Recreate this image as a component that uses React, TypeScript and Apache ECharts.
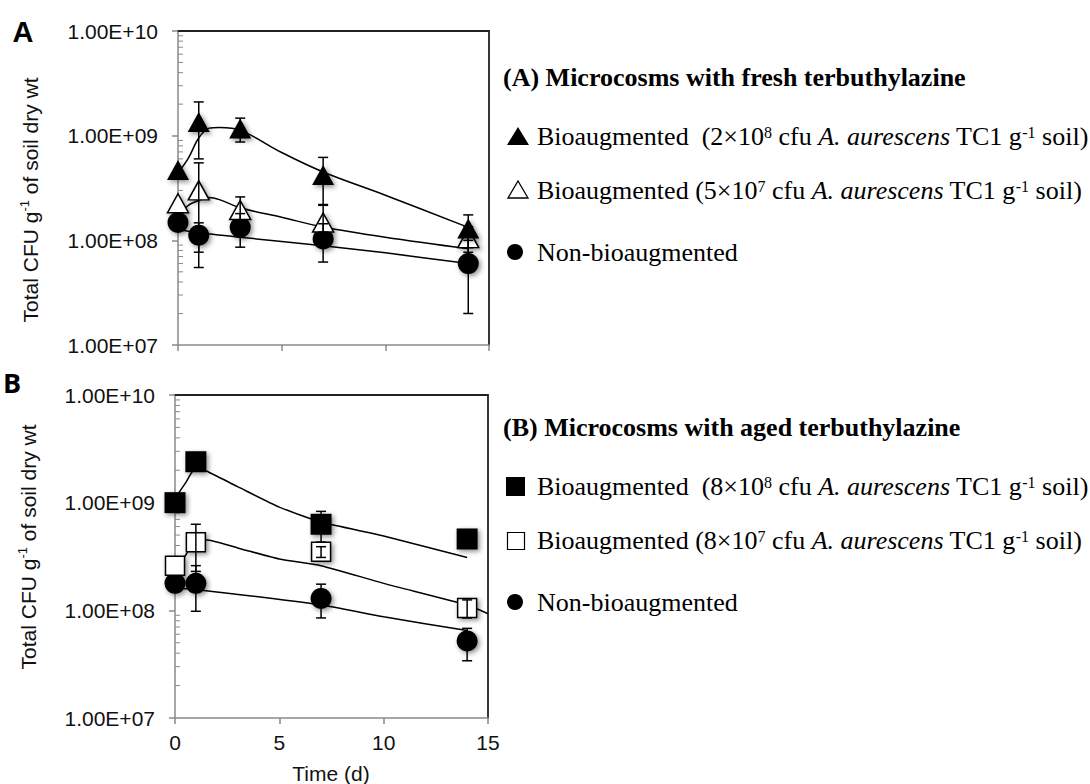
import React, { useEffect, useRef } from "react";
import * as echarts from "echarts";

// ---------- Panel A: fresh terbuthylazine ----------
// null = error bar hidden behind the marker
const A_DAYS = [0, 1, 3, 7, 14];
const A_BIO_HIGH = [4.7e8, 1.35e9, 1.17e9, 4.2e8, 1.3e8];
const A_BIO_HIGH_LO = [null, 6.0e8, 8.7e8, 2.2e8, 8.5e7];
const A_BIO_HIGH_HI = [null, 2.1e9, 1.47e9, 6.2e8, 1.75e8];
const A_BIO_LOW = [2.26e8, 3.0e8, 1.95e8, 1.48e8, 1.05e8];
const A_BIO_LOW_LO = [null, 5.5e7, 1.5e8, 1.2e8, 7.7e7];
const A_BIO_LOW_HI = [null, 5.5e8, 2.6e8, 2.16e8, 1.35e8];
const A_NON = [1.48e8, 1.12e8, 1.33e8, 1.03e8, 6.0e7];
const A_NON_LO = [null, 7.7e7, 8.6e7, 6.2e7, 2.0e7];
const A_NON_HI = [null, 1.47e8, 1.8e8, 1.44e8, 1.0e8];

// fitted curves, panel A
const A_FIT_DAYS = [0, 0.5, 1, 1.5, 2, 3, 5, 7, 10, 14];
const A_FIT_BIO_HIGH = [4.4e8, 6.1e8, 9.5e8, 1.18e9, 1.2e9, 1.13e9, 6.9e8, 4.5e8, 2.7e8, 1.33e8];
const A_FIT_BIO_LOW = [1.7e8, 2.16e8, 2.4e8, 2.57e8, 2.45e8, 2.05e8, 1.66e8, 1.34e8, 1.07e8, 8.3e7];
const A_FIT_NON_DAYS = [0, 1, 3, 7, 10, 14];
const A_FIT_NON = [1.27e8, 1.18e8, 1.07e8, 8.9e7, 7.6e7, 6.0e7];

// ---------- Panel B: aged terbuthylazine ----------
const B_DAYS = [0, 1, 7, 14];
const B_BIO_HIGH = [1.0e9, 2.4e9, 6.3e8, 4.6e8];
const B_BIO_HIGH_LO = [null, null, 4.3e8, null];
const B_BIO_HIGH_HI = [null, null, 8.3e8, null];
const B_BIO_LOW = [2.6e8, 4.3e8, 3.5e8, 1.05e8];
const B_BIO_LOW_LO = [null, 2.3e8, 3.1e8, 8.5e7];
const B_BIO_LOW_HI = [null, 6.3e8, 3.9e8, 1.25e8];
const B_NON = [1.78e8, 1.78e8, 1.29e8, 5.2e7];
const B_NON_LO = [null, 9.8e7, 8.5e7, 3.4e7];
const B_NON_HI = [null, 2.6e8, 1.75e8, 6.8e7];

// fitted curves, panel B
const B_FIT_HIGH_DAYS = [0, 0.5, 1, 1.5, 3, 5, 7, 10, 14];
const B_FIT_BIO_HIGH = [1.1e9, 1.52e9, 2.1e9, 1.97e9, 1.41e9, 9.1e8, 6.6e8, 4.9e8, 3.1e8];
const B_FIT_LOW_DAYS = [0, 1, 1.5, 3, 5, 7, 10, 14, 15];
const B_FIT_BIO_LOW = [2.2e8, 4.4e8, 4.5e8, 3.8e8, 3.0e8, 2.6e8, 1.78e8, 1.12e8, 9.3e7];
const B_FIT_NON_DAYS = [0, 1, 7, 10, 14];
const B_FIT_NON = [1.6e8, 1.56e8, 1.12e8, 8.7e7, 6.5e7];

// axes
const X_TICKS = [0, 5, 10, 15];
const Y_MIN = 1e7;
const Y_MAX = 1e10;
const MINOR_TICKS = [
  2e7, 3e7, 4e7, 5e7, 6e7, 7e7, 8e7, 9e7,
  2e8, 3e8, 4e8, 5e8, 6e8, 7e8, 8e8, 9e8,
  2e9, 3e9, 4e9, 5e9, 6e9, 7e9, 8e9, 9e9,
];

const AXIS_GRAY = "#8a8a8a";
const TXT = "#111";
const SANS = "Liberation Sans, Arial, sans-serif";
const SERIF = "Liberation Serif, Times New Roman, serif";

const zip = (xs: number[], ys: number[]) => xs.map((x, i) => [x, ys[i]]);
const zip3 = (xs: number[], a: (number | null)[], b: (number | null)[]) =>
  xs.map((x, i) => [x, a[i], b[i]]).filter((r) => r[1] != null && r[2] != null);

const shadow = {
  shadowBlur: 5,
  shadowOffsetX: 2,
  shadowOffsetY: 2,
  shadowColor: "rgba(0,0,0,0.45)",
};

function errorBars(grid: number, data: any[]) {
  return {
    type: "custom",
    xAxisIndex: grid,
    yAxisIndex: grid,
    z: 5,
    clip: false,
    encode: { x: 0, y: [1, 2] },
    data,
    renderItem: (_p: any, api: any) => {
      const x = api.value(0);
      const lo = api.coord([x, api.value(1)]);
      const hi = api.coord([x, api.value(2)]);
      const w = 5;
      const st = { stroke: "#000", lineWidth: 1.5 };
      return {
        type: "group",
        children: [
          { type: "line", shape: { x1: lo[0], y1: lo[1], x2: hi[0], y2: hi[1] }, style: st },
          { type: "line", shape: { x1: lo[0] - w, y1: lo[1], x2: lo[0] + w, y2: lo[1] }, style: st },
          { type: "line", shape: { x1: hi[0] - w, y1: hi[1], x2: hi[0] + w, y2: hi[1] }, style: st },
        ],
      };
    },
  };
}

function minorTicks(grid: number) {
  return {
    type: "custom",
    xAxisIndex: grid,
    yAxisIndex: grid,
    z: 1,
    clip: false,
    silent: true,
    data: MINOR_TICKS.map((v) => [0, v]),
    renderItem: (_p: any, api: any) => {
      const p = api.coord([api.value(0), api.value(1)]);
      return {
        type: "line",
        shape: { x1: p[0], y1: p[1], x2: p[0] + 5, y2: p[1] },
        style: { stroke: AXIS_GRAY, lineWidth: 1 },
      };
    },
  };
}

function fitLine(grid: number, xs: number[], ys: number[], smooth: number) {
  return {
    type: "line",
    xAxisIndex: grid,
    yAxisIndex: grid,
    z: 2,
    data: zip(xs, ys),
    symbol: "none",
    smooth,
    lineStyle: { color: "#000", width: 1.5 },
  };
}

function points(grid: number, xs: number[], ys: number[], symbol: string, size: any, filled: boolean) {
  return {
    type: "scatter",
    xAxisIndex: grid,
    yAxisIndex: grid,
    z: 3,
    clip: false,
    data: zip(xs, ys),
    symbol,
    symbolSize: size,
    itemStyle: filled
      ? { color: "#000", opacity: 1, ...shadow }
      : { color: "#fff", borderColor: "#000", borderWidth: 1.5, opacity: 1, ...shadow },
  };
}

const yFormatter = (v: number) => {
  const e = Math.round(Math.log10(v));
  return "1.00E+" + (e < 10 ? "0" + e : String(e));
};

function yAxisMain(grid: number) {
  return {
    type: "log",
    logBase: 10,
    gridIndex: grid,
    min: Y_MIN,
    max: Y_MAX,
    axisLine: { show: true, lineStyle: { color: AXIS_GRAY, width: 1.5 } },
    axisTick: { show: true, length: 6, lineStyle: { color: AXIS_GRAY, width: 1.5 } },
    axisLabel: { formatter: yFormatter, fontSize: 21, color: TXT, fontFamily: SANS, margin: 20 },
    splitLine: { show: false },
  };
}

function xAxisMain(grid: number, labels: boolean) {
  return {
    type: "value",
    gridIndex: grid,
    min: X_TICKS[0],
    max: X_TICKS[X_TICKS.length - 1],
    interval: 5,
    axisLine: { show: true, onZero: false, lineStyle: { color: AXIS_GRAY, width: 1.5 } },
    axisTick: { show: true, length: 6, lineStyle: { color: AXIS_GRAY, width: 1.5 } },
    axisLabel: { show: labels, fontSize: 21, color: TXT, fontFamily: SANS, margin: 14 },
    splitLine: { show: false },
  };
}

const borderAxis = (grid: number, kind: "x" | "y") => ({
  type: "value",
  gridIndex: grid,
  position: kind === "x" ? "top" : "right",
  min: 0,
  max: 1,
  axisLine: { show: true, onZero: false, lineStyle: { color: "#222", width: 1.8 } },
  axisTick: { show: false },
  axisLabel: { show: false },
  splitLine: { show: false },
});

function legendRow(y: number, body: string) {
  return {
    type: "text",
    x: 537,
    y,
    style: {
      text: body,
      fontSize: 26,
      fontFamily: SERIF,
      fill: "#000",
      verticalAlign: "middle",
      lineHeight: 30,
      rich: {
        sup: { fontSize: 16, fontFamily: SERIF, fill: "#000", verticalAlign: "top", padding: [3, 0, 0, 0], lineHeight: 16 },
        it: { fontSize: 26, fontFamily: SERIF, fontStyle: "italic", fill: "#000", lineHeight: 30 },
      },
    },
  };
}

const App: React.FC = () => {
  const ref = useRef<HTMLDivElement>(null);

  useEffect(() => {
    if (!ref.current) return;
    const chart = echarts.init(ref.current, undefined, { renderer: "svg" });
    const option: any = {
      animation: false,
      backgroundColor: "#fff",
      grid: [
        { left: 178, top: 31, width: 311, height: 314 },
        { left: 175, top: 395, width: 313, height: 323 },
      ],
      xAxis: [xAxisMain(0, false), xAxisMain(1, true), borderAxis(0, "x"), borderAxis(1, "x")],
      yAxis: [yAxisMain(0), yAxisMain(1), borderAxis(0, "y"), borderAxis(1, "y")],
      series: [
        minorTicks(0),
        minorTicks(1),
        // panel A
        fitLine(0, A_FIT_DAYS, A_FIT_BIO_HIGH, 0.35),
        fitLine(0, A_FIT_DAYS, A_FIT_BIO_LOW, 0.35),
        fitLine(0, A_FIT_NON_DAYS, A_FIT_NON, 0.2),
        points(0, A_DAYS, A_NON, "circle", 21, true),
        points(0, A_DAYS, A_BIO_LOW, "triangle", [21, 19], false),
        points(0, A_DAYS, A_BIO_HIGH, "triangle", [22, 20], true),
        errorBars(0, zip3(A_DAYS, A_BIO_HIGH_LO, A_BIO_HIGH_HI)),
        errorBars(0, zip3(A_DAYS, A_BIO_LOW_LO, A_BIO_LOW_HI)),
        errorBars(0, zip3(A_DAYS, A_NON_LO, A_NON_HI)),
        // panel B
        fitLine(1, B_FIT_HIGH_DAYS, B_FIT_BIO_HIGH, 0.2),
        fitLine(1, B_FIT_LOW_DAYS, B_FIT_BIO_LOW, 0.2),
        fitLine(1, B_FIT_NON_DAYS, B_FIT_NON, 0.2),
        points(1, B_DAYS, B_NON, "circle", 21, true),
        points(1, B_DAYS, B_BIO_LOW, "rect", 19, false),
        points(1, B_DAYS, B_BIO_HIGH, "rect", 21, true),
        errorBars(1, zip3(B_DAYS, B_BIO_HIGH_LO, B_BIO_HIGH_HI)),
        errorBars(1, zip3(B_DAYS, B_BIO_LOW_LO, B_BIO_LOW_HI)),
        errorBars(1, zip3(B_DAYS, B_NON_LO, B_NON_HI)),
      ],
      graphic: [
        // panel letters
        { type: "text", x: 23, y: 32, style: { text: "A", fontSize: 29, fontWeight: "bold", fontFamily: SANS, fill: "#000", align: "center", verticalAlign: "middle" } },
        { type: "text", x: 12, y: 382, style: { text: "B", fontSize: 27, fontWeight: "bold", fontFamily: "Open Sans, sans-serif", fill: "#000", align: "center", verticalAlign: "middle" } },
        // y-axis titles
        ...[
          { x: 30, y: 200 },
          { x: 28, y: 547 },
        ].map((p) => ({
          type: "text",
          x: p.x,
          y: p.y,
          rotation: Math.PI / 2,
          style: {
            text: "Total CFU g{sup|-1} of soil dry wt",
            fontSize: 21,
            fontFamily: SANS,
            fill: TXT,
            align: "center",
            verticalAlign: "middle",
            lineHeight: 24,
            rich: { sup: { fontSize: 13, fontFamily: SANS, fill: TXT, verticalAlign: "top", lineHeight: 13 } },
          },
        })),
        // x-axis title
        { type: "text", x: 331, y: 773, style: { text: "Time (d)", fontSize: 21, fontFamily: SANS, fill: TXT, align: "center", verticalAlign: "middle" } },
        // legend A
        { type: "text", x: 503, y: 77, style: { text: "(A) Microcosms with fresh terbuthylazine", fontSize: 26, fontWeight: "bold", fontFamily: SERIF, fill: "#000", verticalAlign: "middle" } },
        { type: "polygon", shape: { points: [[507, 145], [529, 145], [518, 127]] }, style: { fill: "#000" } },
        legendRow(136, "Bioaugmented  (2×10{sup|8} cfu {it|A. aurescens} TC1 g{sup|-1} soil)"),
        { type: "polygon", shape: { points: [[508, 198], [528, 198], [518, 181]] }, style: { fill: "#fff", stroke: "#000", lineWidth: 1.3 } },
        legendRow(190, "Bioaugmented (5×10{sup|7} cfu {it|A. aurescens} TC1 g{sup|-1} soil)"),
        { type: "circle", shape: { cx: 515, cy: 252, r: 8 }, style: { fill: "#000" } },
        legendRow(252, "Non-bioaugmented"),
        // legend B
        { type: "text", x: 503, y: 427, style: { text: "(B) Microcosms with aged terbuthylazine", fontSize: 26, fontWeight: "bold", fontFamily: SERIF, fill: "#000", verticalAlign: "middle" } },
        { type: "rect", shape: { x: 506, y: 477, width: 19, height: 19 }, style: { fill: "#000" } },
        legendRow(486, "Bioaugmented  (8×10{sup|8} cfu {it|A. aurescens} TC1 g{sup|-1} soil)"),
        { type: "rect", shape: { x: 507.5, y: 532.5, width: 17, height: 17 }, style: { fill: "#fff", stroke: "#000", lineWidth: 1.2 } },
        legendRow(540, "Bioaugmented (8×10{sup|7} cfu {it|A. aurescens} TC1 g{sup|-1} soil)"),
        { type: "circle", shape: { cx: 515, cy: 602, r: 8 }, style: { fill: "#000" } },
        legendRow(602, "Non-bioaugmented"),
      ],
    };
    chart.setOption(option);
    return () => chart.dispose();
  }, []);

  return (
    <div
      ref={ref}
      style={{ position: "absolute", left: 0, top: 0, width: 1090, height: 784, background: "#fff" }}
    />
  );
};

export default App;
